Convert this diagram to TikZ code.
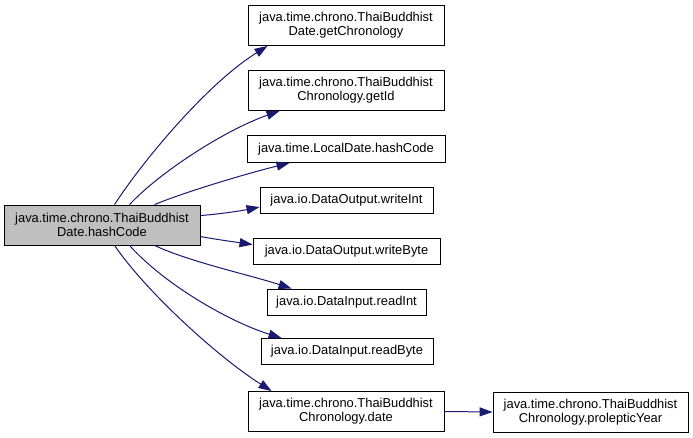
\documentclass[tikz,border=0pt]{standalone}
\usepackage{fontspec}
\setmainfont{Liberation Sans}
\usetikzlibrary{arrows.meta,calc}
\definecolor{edgeblue}{HTML}{191970}
\definecolor{mainfill}{HTML}{BFBFBF}
\begin{document}
\begin{tikzpicture}[x=1pt,y=-1pt,
  fn/.style={draw=black,fill=white,inner sep=0pt,align=center,font=\fontsize{12.9}{14}\selectfont,line width=0.9pt},
  call/.style={draw=edgeblue,line width=1pt,-{Triangle[length=13pt,width=9pt,fill=edgeblue]}}]
\useasboundingbox (0,0) rectangle (693,437);
\node[fn,fill=mainfill,minimum width=196pt,minimum height=40pt] (main) at (102,225) {java.time.chrono.ThaiBuddhist\\Date.hashCode};
\node[fn,minimum width=196pt,minimum height=40pt] (n1) at (346,25.5) {java.time.chrono.ThaiBuddhist\\Date.getChronology};
\node[fn,minimum width=196pt,minimum height=40pt] (n2) at (346,90.5) {java.time.chrono.ThaiBuddhist\\Chronology.getId};
\node[fn,minimum width=198pt,minimum height=27pt] (n3) at (346,149) {java.time.LocalDate.hashCode};
\node[fn,minimum width=173pt,minimum height=26pt] (n4) at (346.5,200.5) {java.io.DataOutput.writeInt};
\node[fn,minimum width=187pt,minimum height=26pt] (n5) at (346.5,251) {java.io.DataOutput.writeByte};
\node[fn,minimum width=159pt,minimum height=26pt] (n6) at (346.5,302) {java.io.DataInput.readInt};
\node[fn,minimum width=172pt,minimum height=26pt] (n7) at (347,351.5) {java.io.DataInput.readByte};
\node[fn,minimum width=196pt,minimum height=40pt] (n8) at (346,411.5) {java.time.chrono.ThaiBuddhist\\Chronology.date};
\node[fn,minimum width=195pt,minimum height=40pt] (n9) at (590.5,412) {java.time.chrono.ThaiBuddhist\\Chronology.prolepticYear};
\draw[call] ($(main.north west)+(111,0)$) .. controls (140,165) and (205,85) .. ($(n1.south west)+(20,0)$);
\draw[call] ($(main.north west)+(126,0)$) .. controls (160,172) and (225,130) .. ($(n2.south west)+(32,0)$);
\draw[call] ($(main.north west)+(151,0)$) .. controls (185,192) and (245,174) .. ($(n3.south west)+(43,0)$);
\draw[call] ($(main.north east)+(0,11)$) .. controls (220,214) and (240,211) .. ($(n4.north west)+(0,20)$);
\draw[call] ($(main.north east)+(0,32)$) .. controls (220,240) and (235,242) .. ($(n5.north west)+(0,7)$);
\draw[call] ($(main.south west)+(151,0)$) .. controls (190,262) and (250,275) .. ($(n6.north west)+(25,0)$);
\draw[call] ($(main.south west)+(126,0)$) .. controls (165,285) and (230,322) .. ($(n7.north west)+(21,0)$);
\draw[call] ($(main.south west)+(111,0)$) .. controls (145,290) and (215,355) .. ($(n8.north west)+(24,0)$);
\draw[call] (n8.east) -- (n9.west);
\end{tikzpicture}
\end{document}
